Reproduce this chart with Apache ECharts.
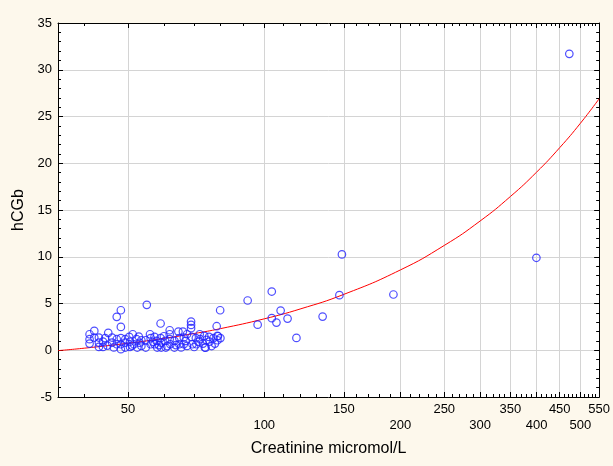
<!DOCTYPE html>
<html>
<head>
<meta charset="utf-8">
<script src="https://cdn.jsdelivr.net/npm/echarts@6/dist/echarts.min.js"></script>
<style>
html,body{margin:0;padding:0;background:#FDF8EC;}
#chart{width:613px;height:466px;}
</style>
</head>
<body>
<div id="chart"></div>
<script>
// Scatter data: creatinine (x) and hCGb (y)
const creatinine = [
  41.1,41.1,41.1,42.1,42.1,43.1,43.1,43.1,44.0,44.0,45.2,46.1,46.1,47.2,47.2,47.2,48.2,48.2,48.2,48.2,48.2,
  49.3,49.3,49.3,50.3,50.5,50.5,51.2,51.5,52.2,52.4,53.5,53.5,55.0,54.7,54.7,55.9,56.1,56.1,57.2,57.2,58.0,
  59.0,59.0,59.2,59.2,60.4,60.6,61.8,61.8,61.8,62.0,63.3,63.3,64.6,64.9,64.9,66.1,66.4,66.4,67.5,67.5,
  68.9,68.9,68.9,69.1,69.4,70.6,70.8,72.0,72.2,73.2,73.7,73.9,75.5,75.7,77.2,77.8,78.5,78.8,79.9,
  45.0,46.5,51.0,53.0,56.8,58.5,61.0,63.8,65.5,67.0,70.0,71.5,74.5,76.5,79.0,80.0,44.5,52.8,57.8,60.0,74.2,78.8,
  91.9,96.7,103.9,103.9,106.4,108.7,112.6,117.8,134.6,146.6,148.5,193.0,399.6,472.5
];
const hcgb = [
  1.71,1.18,0.71,2.07,1.36,1.36,0.82,0.36,0.93,0.36,1.86,1.36,0.82,3.57,1.18,0.64,4.28,2.50,1.29,0.64,0.11,
  1.18,0.82,0.29,1.43,0.93,0.36,1.71,0.64,1.18,0.29,1.07,0.46,4.86,1.07,0.29,1.71,1.29,0.64,1.43,0.64,0.29,
  2.86,1.29,0.82,0.29,1.00,0.29,2.14,1.71,1.18,0.64,1.00,0.29,2.00,1.29,0.64,2.00,1.36,0.64,1.71,0.46,
  3.07,2.71,2.36,1.43,0.64,1.29,0.64,1.71,1.18,0.71,1.53,0.29,1.43,0.93,1.29,0.71,2.57,1.07,4.28,
  0.50,0.30,0.50,0.80,0.90,0.55,0.45,0.55,0.30,1.00,0.35,0.90,1.10,0.45,1.50,1.30,1.30,1.45,1.00,1.50,0.28,1.53,
  5.32,2.74,6.28,3.43,2.96,4.24,3.39,1.32,3.60,5.89,10.25,5.96,9.89,31.7
];
// Fitted curve
const fitX = [35,40,50,60,70,80,100,120,150,200,250,300,350,400,450,500,550];
const fitY = [-0.04,0.22,0.75,1.27,1.79,2.31,3.36,4.41,5.98,8.59,11.21,13.82,16.44,19.05,21.67,24.28,26.9];
// Axis ticks
const xMajor = [50,100,150,200,250,300,350,400,450,500,550];
const xUpperRow = [50,150,250,350,450,550];
const xLowerRow = [100,200,300,400,500];
const xMinor = [40,60,70,80,90,110,120,130,140,160,170,180,190,210,220,230,240,260,270,280,290,
  310,320,330,340,360,370,380,390,410,420,430,440,460,470,480,490,510,520,530,540];
const xMin = 35, xMax = 550;
const yMin = -5, yMax = 35, yStep = 5;

const scatterData = creatinine.map((x, i) => [x, hcgb[i]]);
const fitData = fitX.map((x, i) => [x, fitY[i]]);

const FONT = 'Liberation Sans, Arial, sans-serif';
const chart = echarts.init(document.getElementById('chart'));

const baseX = {
  type: 'log', min: xMin, max: xMax, gridIndex: 0
};
const labelStyle = { fontFamily: FONT, fontSize: 13, color: '#000', showMaxLabel: true, showMinLabel: true, hideOverlap: false,
  formatter: v => String(Math.round(v)) };

chart.setOption({
  backgroundColor: '#FDF8EC',
  animation: false,
  grid: { left: 58, right: 13, top: 23, bottom: 69, show: true, backgroundColor: '#ffffff', borderWidth: 0 },
  xAxis: [
    Object.assign({}, baseX, {
      position: 'bottom',
      name: 'Creatinine micromol/L', nameLocation: 'middle', nameGap: 44,
      nameTextStyle: { fontFamily: FONT, fontSize: 16, color: '#000' },
      axisLine: { show: true, onZero: false, lineStyle: { color: '#000', width: 1 } },
      axisTick: { show: true, inside: true, length: 5, customValues: xMajor, lineStyle: { color: '#000' } },
      axisLabel: Object.assign({ show: true, customValues: xUpperRow, margin: 6 }, labelStyle),
      splitLine: { show: true, lineStyle: { color: '#d4d4d4', width: 1 } },
      minorTick: { show: false }
    }),
    Object.assign({}, baseX, {
      position: 'bottom',
      axisLine: { show: false, onZero: false },
      axisTick: { show: true, inside: true, length: 3, customValues: xMinor, lineStyle: { color: '#000' } },
      axisLabel: Object.assign({ show: true, customValues: xLowerRow, margin: 22 }, labelStyle),
      splitLine: { show: false }
    }),
    Object.assign({}, baseX, {
      position: 'top',
      axisLine: { show: true, onZero: false, lineStyle: { color: '#000', width: 1 } },
      axisTick: { show: true, inside: true, length: 5, customValues: xMajor, lineStyle: { color: '#000' } },
      axisLabel: { show: false, customValues: xMajor },
      splitLine: { show: false }
    }),
    Object.assign({}, baseX, {
      position: 'top',
      axisLine: { show: false, onZero: false },
      axisTick: { show: true, inside: true, length: 3, customValues: xMinor, lineStyle: { color: '#000' } },
      axisLabel: { show: false, customValues: xMinor },
      splitLine: { show: false }
    })
  ],
  yAxis: [
    {
      type: 'value', min: yMin, max: yMax, interval: yStep, position: 'left',
      name: 'hCGb', nameLocation: 'middle', nameGap: 29,
      nameTextStyle: { fontFamily: FONT, fontSize: 16, color: '#000' },
      axisLine: { show: true, onZero: false, lineStyle: { color: '#000', width: 1 } },
      axisTick: { show: true, inside: true, length: 5, lineStyle: { color: '#000' } },
      minorTick: { show: true, splitNumber: 5, length: 3, lineStyle: { color: '#000' } },
      axisLabel: { margin: 6, fontFamily: FONT, fontSize: 13, color: '#000' },
      splitLine: { show: true, lineStyle: { color: '#d4d4d4', width: 1 } }
    },
    {
      type: 'value', min: yMin, max: yMax, interval: yStep, position: 'right',
      axisLine: { show: true, onZero: false, lineStyle: { color: '#000', width: 1 } },
      axisTick: { show: true, inside: true, length: 5, lineStyle: { color: '#000' } },
      minorTick: { show: true, splitNumber: 5, length: 3, lineStyle: { color: '#000' } },
      axisLabel: { show: false },
      splitLine: { show: false }
    }
  ],
  series: [
    {
      type: 'line', xAxisIndex: 0, yAxisIndex: 0, data: fitData,
      smooth: true, showSymbol: false, symbol: 'none',
      lineStyle: { color: '#ff0000', width: 1 }, z: 3
    },
    {
      type: 'scatter', xAxisIndex: 0, yAxisIndex: 0, data: scatterData,
      symbol: 'circle', symbolSize: 7.5,
      itemStyle: { color: 'rgba(255,255,255,0)', borderColor: '#2222ff', borderWidth: 1.2 },
      z: 4
    }
  ]
});
</script>
</body>
</html>
